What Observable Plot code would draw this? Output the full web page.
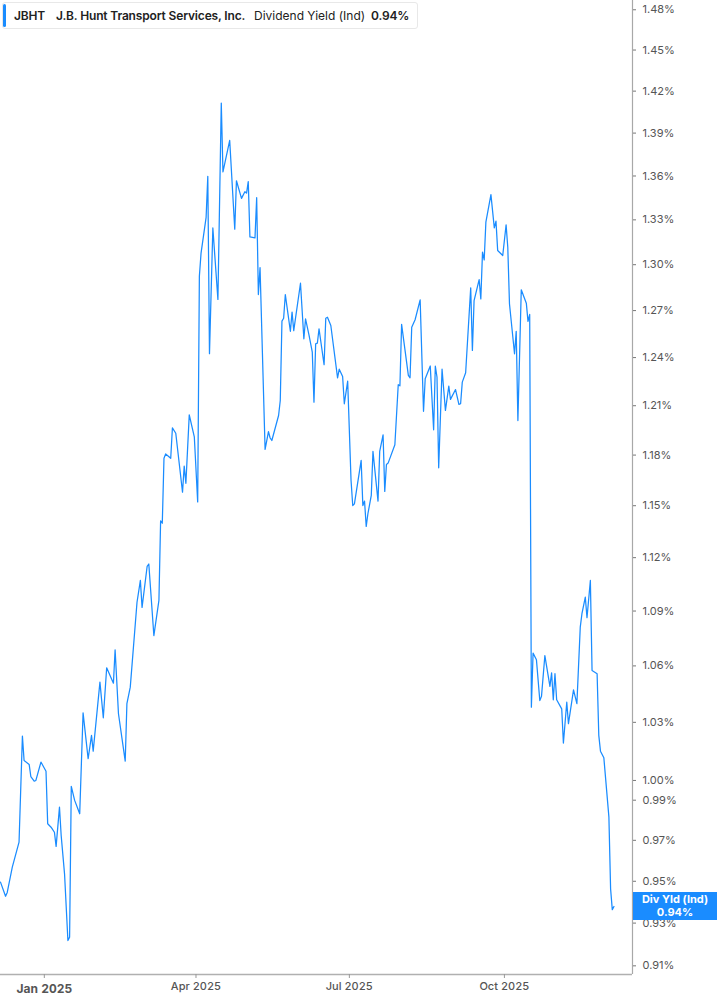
<!DOCTYPE html>
<html>
<head>
<meta charset="utf-8">
<script src="https://cdn.jsdelivr.net/npm/d3@7"></script>
<script src="https://cdn.jsdelivr.net/npm/@observablehq/plot@0.6"></script>
<style>
  html, body { margin: 0; padding: 0; background: #fff; }
  body { width: 717px; height: 1005px; position: relative; overflow: hidden; font-family: Inter, "Noto Sans", sans-serif; }
  #chart { position: absolute; left: 0; top: 0; }
  #header { position: absolute; left: 2px; top: 2px; width: 416px; height: 27px; border: 1px solid #e8e8e8; border-radius: 3px; background: #fff; box-sizing: border-box; }
  #header .bar { position: absolute; left: 0; top: 1px; width: 3px; height: 23px; background: #1a8cff; border-radius: 2px; }
  #header span { position: absolute; top: 6px; font-size: 12px; color: #222; white-space: nowrap; line-height: 14px; }
  #header .b { font-weight: 600; letter-spacing: -0.15px; }
  #tag { position: absolute; left: 633px; width: 84px; height: 28px; background: #1a8cff; color: #fff; font-size: 11px; font-weight: 700; text-align: center; line-height: 12.5px; padding-top: 1.5px; box-sizing: border-box; }
</style>
</head>
<body>
<div id="chart"></div>
<div id="header">
  <div class="bar"></div>
  <span class="b" style="left:11px">JBHT</span>
  <span class="b" style="left:53px">J.B. Hunt Transport Services, Inc.</span>
  <span style="left:251px">Dividend Yield (Ind)</span>
  <span class="b" style="left:368px">0.94%</span>
</div>
<div id="tag"></div>
<script>
const dates = [
  "2024-12-06","2024-12-09","2024-12-10","2024-12-13","2024-12-17","2024-12-19","2024-12-20","2024-12-23","2024-12-24","2024-12-26","2024-12-27","2024-12-30",
  "2025-01-02","2025-01-03","2025-01-05","2025-01-07","2025-01-08","2025-01-10","2025-01-11","2025-01-13","2025-01-15","2025-01-16","2025-01-17","2025-01-19","2025-01-22","2025-01-24","2025-01-27","2025-01-29","2025-01-30",
  "2025-02-03","2025-02-05","2025-02-07","2025-02-11","2025-02-12","2025-02-14","2025-02-18","2025-02-19","2025-02-21","2025-02-25","2025-02-27","2025-02-28",
  "2025-03-03","2025-03-04","2025-03-07","2025-03-10","2025-03-11","2025-03-12","2025-03-13","2025-03-14","2025-03-17","2025-03-18","2025-03-20","2025-03-24","2025-03-25","2025-03-26","2025-03-28","2025-03-31",
  "2025-04-02","2025-04-03","2025-04-04","2025-04-07","2025-04-08","2025-04-09","2025-04-11","2025-04-14","2025-04-16","2025-04-17","2025-04-21","2025-04-24","2025-04-25","2025-04-28","2025-04-30",
  "2025-05-01","2025-05-02","2025-05-03","2025-05-06","2025-05-07","2025-05-08","2025-05-09","2025-05-12","2025-05-14","2025-05-15","2025-05-16","2025-05-20","2025-05-21","2025-05-22","2025-05-23","2025-05-24","2025-05-27","2025-05-28","2025-05-29",
  "2025-06-02","2025-06-04","2025-06-05","2025-06-07","2025-06-09","2025-06-10","2025-06-11","2025-06-12","2025-06-13","2025-06-16","2025-06-17","2025-06-18","2025-06-20","2025-06-24","2025-06-25","2025-06-27","2025-06-28","2025-06-30",
  "2025-07-02","2025-07-03","2025-07-04","2025-07-08","2025-07-09","2025-07-10","2025-07-11","2025-07-12","2025-07-14","2025-07-15","2025-07-18","2025-07-19","2025-07-21","2025-07-22","2025-07-23","2025-07-24","2025-07-28","2025-07-30","2025-07-31",
  "2025-08-01","2025-08-05","2025-08-06","2025-08-07","2025-08-09","2025-08-12","2025-08-14","2025-08-15","2025-08-18","2025-08-20","2025-08-21","2025-08-22","2025-08-23","2025-08-25","2025-08-27","2025-08-29","2025-08-30",
  "2025-09-02","2025-09-04","2025-09-05","2025-09-06","2025-09-08","2025-09-11","2025-09-12","2025-09-13","2025-09-16","2025-09-17","2025-09-18","2025-09-19","2025-09-20","2025-09-23","2025-09-25","2025-09-26","2025-09-27","2025-09-30",
  "2025-10-02","2025-10-03","2025-10-04","2025-10-07","2025-10-08","2025-10-09","2025-10-11","2025-10-14","2025-10-15","2025-10-16","2025-10-17","2025-10-18","2025-10-20","2025-10-22","2025-10-23","2025-10-25","2025-10-28","2025-10-29","2025-10-30","2025-10-31",
  "2025-11-01","2025-11-04","2025-11-05","2025-11-07","2025-11-08","2025-11-11","2025-11-13","2025-11-15","2025-11-16","2025-11-18","2025-11-19","2025-11-21","2025-11-22","2025-11-25","2025-11-26","2025-11-27","2025-11-29",
  "2025-12-02","2025-12-03","2025-12-04","2025-12-05"
];
const yields = [
  0.9496,0.9428,0.9446,0.9569,0.9691,1.0228,1.0102,1.0082,1.0020,0.9996,1.0000,1.0094,
  1.0047,0.9782,0.9765,0.9740,0.9670,0.9865,0.9724,0.9536,0.9218,0.9234,0.9970,0.9899,0.9832,1.0350,1.0111,1.0232,1.0150,
  1.0513,1.0324,1.0590,1.0507,1.0687,1.0345,1.0099,1.0398,1.0486,1.0949,1.1071,1.0920,
  1.1150,1.1164,1.0765,1.0959,1.1411,1.1398,1.1781,1.1807,1.1781,1.1964,1.1932,1.1579,1.1734,1.1632,1.2044,1.1910,
  1.1522,1.2924,1.3077,1.3317,1.3598,1.2425,1.3245,1.2772,1.4114,1.3628,1.3848,1.3237,1.3567,1.3446,1.3492,
  1.3482,1.3561,1.3185,1.3178,1.3451,1.2804,1.2981,1.1834,1.1942,1.1903,1.1888,1.2040,1.2132,1.2632,1.2651,1.2804,1.2567,1.2690,1.2571,
  1.2878,1.2519,1.2647,1.2546,1.2434,1.2122,1.2487,1.2491,1.2583,1.2355,1.2651,1.2657,1.2604,1.2273,1.2327,1.2281,1.2112,1.2252,
  1.1648,1.1501,1.1511,1.1768,1.1501,1.1527,1.1379,1.1453,1.1560,1.1822,1.1527,1.1822,1.1922,1.1584,1.1744,1.1752,1.1862,1.2230,1.2223,
  1.2611,1.2288,1.2273,1.2593,1.2641,1.2770,1.2066,1.2267,1.2347,1.1953,1.2346,1.2277,1.1724,1.2327,1.2071,1.2221,1.2139,
  1.2200,1.2108,1.2112,1.2246,1.2305,1.2848,1.2445,1.2765,1.2902,1.2776,1.3083,1.3032,1.3284,1.3472,1.3246,1.3291,1.3094,1.3061,
  1.3266,1.3116,1.2744,1.2424,1.2567,1.2009,1.2835,1.2748,1.2630,1.2675,1.0380,1.0669,1.0633,1.0415,1.0437,1.0656,1.0490,1.0563,1.0419,1.0558,
  1.0419,1.0371,1.0192,1.0406,1.0293,1.0472,1.0398,1.0811,1.0885,1.0977,1.0863,1.1071,1.0575,1.0558,1.0232,1.0150,1.0116,
  0.9815,0.9464,0.9364,0.9379
];
const yTicks = [1.48,1.45,1.42,1.39,1.36,1.33,1.30,1.27,1.24,1.21,1.18,1.15,1.12,1.09,1.06,1.03,1.00,0.99,0.97,0.95,0.93,0.91];
const xTickLabels = ["Jan 2025","Apr 2025","Jul 2025","Oct 2025"];
const xTickDates = ["2025-01-01","2025-04-01","2025-07-01","2025-10-01"];
const xDomain = ["2024-12-06","2025-12-16"];
const yDomain = [0.906, 1.487];
const seriesLabel = "Div Yld (Ind)";

const data = dates.map((d, i) => ({date: new Date(d), value: yields[i]}));
const ticksX = xTickDates.map(d => new Date(d));
const labelOf = new Map(ticksX.map((d, i) => [+d, xTickLabels[i]]));
const xEnd = new Date(xDomain[1]);

const plot = Plot.plot({
  width: 717,
  height: 1005,
  marginLeft: 0,
  marginRight: 85,
  marginTop: 0,
  marginBottom: 31,
  style: {fontFamily: "Inter, 'Noto Sans', sans-serif", background: "transparent", overflow: "visible"},
  x: {type: "utc", domain: xDomain.map(d => new Date(d))},
  y: {type: "log", domain: yDomain},
  marks: [
    Plot.ruleY([yDomain[0]], {stroke: "#b0b0b0", strokeWidth: 1.5}),
    Plot.ruleX([xEnd], {stroke: "#a8a8a8", strokeWidth: 1.2}),
    Plot.axisY({anchor: "right", ticks: yTicks, tickFormat: () => "", tickSize: 3, stroke: "#777", label: null}),
    Plot.text(yTicks, {x: () => xEnd, y: d => d, text: d => d.toFixed(2) + "%", textAnchor: "start", dx: 10, fontSize: 11, fill: "#555"}),
    Plot.axisX({ticks: ticksX.slice(0, 1), tickFormat: d => labelOf.get(+d), tickSize: 4, tickPadding: 6, fontSize: 12, fontWeight: 700, color: "#555", stroke: "#999", label: null}),
    Plot.axisX({ticks: ticksX.slice(1), tickFormat: d => labelOf.get(+d), tickSize: 4, tickPadding: 4, fontSize: 11, fontWeight: 500, color: "#555", stroke: "#999", label: null}),
    Plot.line(data, {x: "date", y: "value", stroke: "#1a8cff", strokeWidth: 1.25})
  ]
});
document.getElementById("chart").appendChild(plot);

const last = data[data.length - 1];
const yPix = plot.scale("y").apply(last.value);
const tag = document.getElementById("tag");
tag.style.top = (yPix - 14) + "px";
tag.innerHTML = seriesLabel + "<br>" + last.value.toFixed(2) + "%";
</script>
</body>
</html>
